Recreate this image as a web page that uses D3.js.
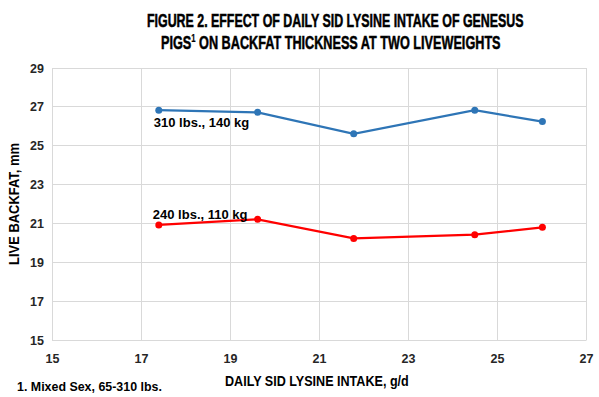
<!DOCTYPE html>
<html><head><meta charset="utf-8">
<script src="https://cdn.jsdelivr.net/npm/d3@7"></script>
<style>body{margin:0;background:#fff;} svg{display:block;font-family:"Liberation Sans",Arial,sans-serif;}</style>
</head><body>
<svg id="c" width="599" height="397"></svg>
<script>
const xTicks = [15,17,19,21,23,25,27];
const yTicks = [15,17,19,21,23,25,27,29];
const lysine = [17.4, 19.62, 21.78, 24.5, 26.02];
const backfat310 = [26.83, 26.72, 25.61, 26.83, 26.24];
const backfat240 = [20.92, 21.21, 20.23, 20.42, 20.80];
const seriesNames = ["310 lbs., 140 kg", "240 lbs., 110 kg"];

const svg = d3.select("#c");
const L=52, R=586, T=68, B=340;
const x = d3.scaleLinear().domain([15,27]).range([L,R]);
const y = d3.scaleLinear().domain([15,29]).range([B,T]);

function fit(sel, x0, x1, yy){
  const bb = sel.node().getBBox();
  const s = (x1-x0)/bb.width;
  sel.attr("transform",`translate(${x0 - bb.x*s},${yy}) scale(${s},1)`);
}

svg.append("g").selectAll("line").data(yTicks).join("line")
  .attr("x1",L).attr("x2",R).attr("y1",d=>y(d)).attr("y2",d=>y(d))
  .attr("stroke","#d9d9d9").attr("stroke-width",1).attr("shape-rendering","crispEdges");
svg.append("g").selectAll("line").data(xTicks).join("line")
  .attr("y1",T).attr("y2",B).attr("x1",d=>x(d)).attr("x2",d=>x(d))
  .attr("stroke","#d9d9d9").attr("stroke-width",1).attr("shape-rendering","crispEdges");

const xa = svg.append("g").attr("transform",`translate(0,${B})`)
  .call(d3.axisBottom(x).tickValues(xTicks).tickSize(0).tickPadding(14).tickFormat(d3.format("d")));
xa.select(".domain").attr("stroke","#d9d9d9");
const ya = svg.append("g").attr("transform",`translate(${L},0)`)
  .call(d3.axisLeft(y).tickValues(yTicks).tickSize(0).tickPadding(8).tickFormat(d3.format("d")));
ya.select(".domain").attr("stroke","#d9d9d9");
svg.selectAll(".tick text").attr("font-family","'Liberation Sans',Arial,sans-serif")
  .attr("font-size",12.5).attr("font-weight","bold").attr("fill","#262626");

function series(vals, color){
  const data = lysine.map((v,i)=>[v, vals[i]]);
  svg.append("path").datum(data)
    .attr("d", d3.line().x(d=>x(d[0])).y(d=>y(d[1])))
    .attr("fill","none").attr("stroke",color).attr("stroke-width",2.25);
  svg.append("g").selectAll("circle").data(data).join("circle")
    .attr("cx",d=>x(d[0])).attr("cy",d=>y(d[1])).attr("r",3.5).attr("fill",color);
}
series(backfat310, "#2e75b6");
series(backfat240, "#ff0000");

const lab = (txt, xx, yy) => svg.append("text").attr("x",xx).attr("y",yy)
  .attr("font-size",13).attr("font-weight","bold").attr("fill","#000").text(txt);
lab(seriesNames[0], x(lysine[0]) - 5, y(backfat310[0]) + 17);
lab(seriesNames[1], x(lysine[0]) - 6, y(backfat240[0]) - 6);

const t1 = svg.append("text").attr("font-size",18).attr("font-weight","bold").attr("fill","#000")
  .attr("stroke","#000").attr("stroke-width",0.5)
  .text("FIGURE 2. EFFECT OF DAILY SID LYSINE INTAKE OF GENESUS");
fit(t1, 147, 524, 27);
const t2 = svg.append("text").attr("font-size",18).attr("font-weight","bold").attr("fill","#000")
  .attr("stroke","#000").attr("stroke-width",0.5);
t2.append("tspan").text("PIGS");
t2.append("tspan").attr("font-size",11).attr("dy",-7).attr("stroke-width",0.2).text("1");
t2.append("tspan").attr("dy",7).text(" ON BACKFAT THICKNESS AT TWO LIVEWEIGHTS");
fit(t2, 161, 501, 49);

const xt = svg.append("text").attr("font-size",15).attr("font-weight","bold").text("DAILY SID LYSINE INTAKE, g/d");
fit(xt, 225, 409, 386);
const yt = svg.append("text").attr("text-anchor","middle").attr("font-size",15).attr("font-weight","bold")
  .text("LIVE BACKFAT, mm");
{
  const bb = yt.node().getBBox();
  const s = 122/bb.width;
  yt.attr("transform",`translate(19,204) rotate(-90) scale(${s},1)`);
}
const fn = svg.append("text").attr("font-size",12).attr("font-weight","bold").text("1. Mixed Sex, 65-310 lbs.");
fit(fn, 17, 162, 391);
</script>
</body></html>
